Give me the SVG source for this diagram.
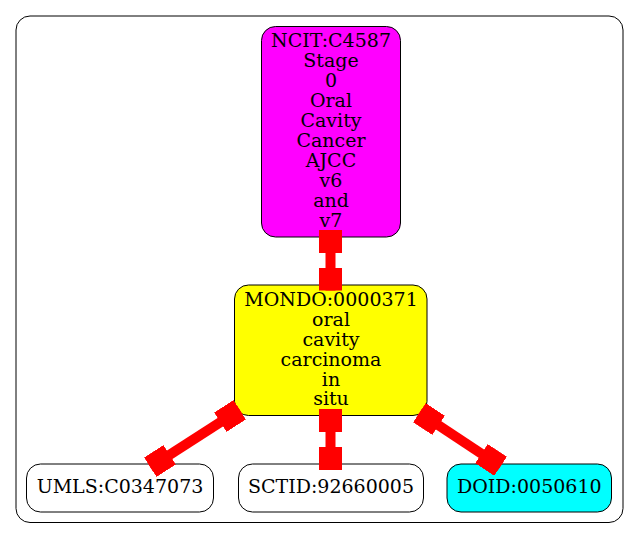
<svg xmlns="http://www.w3.org/2000/svg" width="639" height="539" viewBox="0 0 639 539">
<style>
.n{stroke:#000;stroke-width:1}
.t{font-family:"DejaVu Serif","Liberation Serif",serif;font-size:19px;text-anchor:middle;fill:#000}
.e{stroke:#ff0000;stroke-width:10;fill:none;marker-start:url(#box);marker-end:url(#box)}
</style>
<defs>
<marker id="box" markerUnits="userSpaceOnUse" markerWidth="23" markerHeight="23" viewBox="0 0 23 23" refX="23" refY="11.5" orient="auto-start-reverse">
<rect x="0" y="0" width="23" height="23" fill="#ff0000"/>
</marker>
</defs>
<rect x="0" y="0" width="639" height="539" fill="#fff"/>
<rect id="cluster" x="16" y="16" width="607" height="506.5" rx="14" fill="none" stroke="#000" stroke-width="1"/>
<g id="ncit">
<rect class="n" x="261.5" y="26.5" width="139" height="210.5" rx="14" fill="#ff00ff"/>
<text class="t" x="331" y="46.7">NCIT:C4587</text>
<text class="t" x="331" y="66.7">Stage</text>
<text class="t" x="331" y="86.7">0</text>
<text class="t" x="331" y="106.7">Oral</text>
<text class="t" x="331" y="126.7">Cavity</text>
<text class="t" x="331" y="146.7">Cancer</text>
<text class="t" x="331" y="166.7">AJCC</text>
<text class="t" x="331" y="186.7">v6</text>
<text class="t" x="331" y="206.7">and</text>
<text class="t" x="331" y="226.7">v7</text>
</g>
<g id="mondo">
<rect class="n" x="234.5" y="285" width="192.5" height="130.5" rx="14" fill="#ffff00"/>
<text class="t" x="331" y="305.7">MONDO:0000371</text>
<text class="t" x="331" y="325.7">oral</text>
<text class="t" x="331" y="345.7">cavity</text>
<text class="t" x="331" y="365.7">carcinoma</text>
<text class="t" x="331" y="385.7">in</text>
<text class="t" x="331" y="405.4">situ</text>
</g>
<g id="umls">
<rect class="n" x="26.5" y="464" width="187" height="48" rx="14" fill="#fff"/>
<text class="t" x="120" y="492.7">UMLS:C0347073</text>
</g>
<g id="sctid">
<rect class="n" x="238.5" y="464" width="185" height="48" rx="14" fill="#fff"/>
<text class="t" x="331" y="492.7">SCTID:92660005</text>
</g>
<g id="doid">
<rect class="n" x="447" y="464" width="164.5" height="48" rx="14" fill="#00ffff"/>
<text class="t" x="529.3" y="492.7">DOID:0050610</text>
</g>
<g id="edges">
<path class="e" d="M330.5 230 L330.5 290.5"/>
<path class="e" d="M330.5 409 L330.5 470"/>
<path class="e" d="M239.7 409.8 L150.3 467.2"/>
<path class="e" d="M419.4 412.7 L500.6 466.3"/>
</g>
</svg>
